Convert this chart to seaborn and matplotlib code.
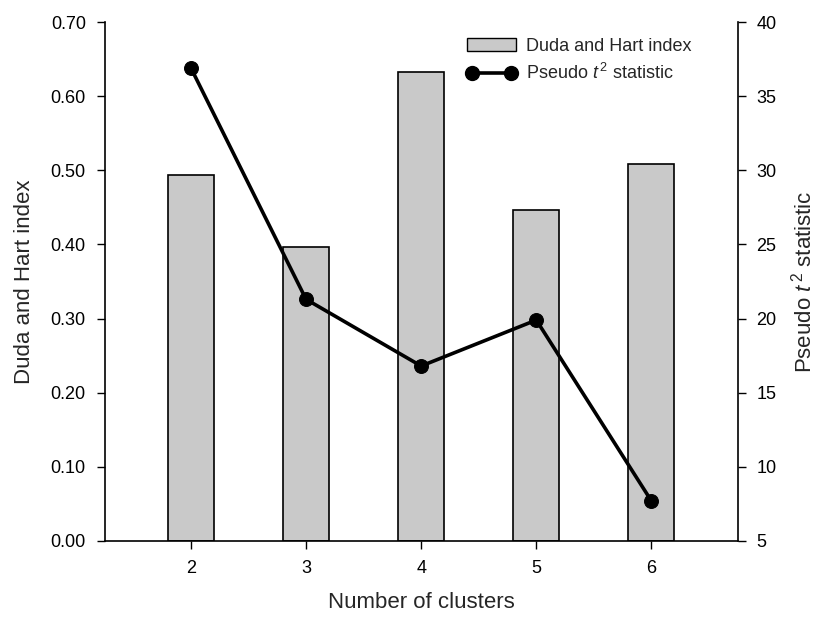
import matplotlib
matplotlib.use("Agg")
import matplotlib.pyplot as plt
import seaborn as sns
import pandas as pd
from matplotlib.lines import Line2D
from matplotlib.patches import Patch

clusters = [2, 3, 4, 5, 6]
duda_hart = [0.494, 0.396, 0.633, 0.446, 0.508]
pseudo_t2 = [36.9, 21.3, 16.8, 19.9, 7.7]
left_ticks = [0.00, 0.10, 0.20, 0.30, 0.40, 0.50, 0.60, 0.70]
right_ticks = [5, 10, 15, 20, 25, 30, 35, 40]

sns.set_theme(style="white")
plt.rcParams["font.family"] = ["Liberation Sans", "DejaVu Sans"]
plt.rcParams["mathtext.fontset"] = "custom"
plt.rcParams["mathtext.rm"] = "Liberation Sans"
plt.rcParams["mathtext.it"] = "Liberation Sans:italic"

df = pd.DataFrame({"clusters": clusters, "dh": duda_hart, "t2": pseudo_t2})

fig = plt.figure(figsize=(8.17, 6.18), dpi=100)
ax = fig.add_axes([0.128, 0.1246, 0.775, 0.8398])

sns.barplot(data=df, x="clusters", y="dh", native_scale=True, width=0.4,
            color="#c9c9c9", edgecolor="black", linewidth=1.2, saturation=1,
            ax=ax)
ax.set_xlim(1.25, 6.75)
ax.set_ylim(0, 0.70)
ax.set_xticks(clusters)
ax.set_xticklabels([str(c) for c in clusters])
ax.set_yticks(left_ticks)
ax.set_yticklabels([f"{v:.2f}" for v in left_ticks])
ax.set_xlabel("Number of clusters", fontsize=16, labelpad=11)
ax.set_ylabel("Duda and Hart index", fontsize=16, labelpad=11)

ax2 = ax.twinx()
sns.lineplot(data=df, x="clusters", y="t2", color="black", linewidth=2.6,
             marker="o", markersize=10, markeredgecolor="black", ax=ax2)
ax2.set_ylim(5, 40)
ax2.set_yticks(right_ticks)
ax2.set_ylabel(r"Pseudo $t^{\,2}$ statistic", fontsize=16, labelpad=10)
ax2.set_xlim(1.25, 6.75)

for a in (ax, ax2):
    a.spines["top"].set_visible(False)
    for s in a.spines.values():
        s.set_linewidth(1.2)
        s.set_color("black")
    a.tick_params(axis="both", which="major", direction="out", length=5.5,
                  width=1, colors="black", labelsize=13, pad=8)
ax.spines["right"].set_visible(False)
ax2.spines["left"].set_visible(False)
ax2.spines["bottom"].set_visible(False)
ax.tick_params(axis="y", right=False, left=True)
ax.tick_params(axis="x", bottom=True)
ax2.tick_params(axis="y", right=True, left=False)

handles = [Patch(facecolor="#c9c9c9", edgecolor="black", linewidth=1.0),
           Line2D([0], [0], color="black", linewidth=2.6, marker="o", markersize=10)]
labels = ["Duda and Hart index", r"Pseudo $t^{\,2}$ statistic"]
ax2.legend(handles, labels, loc="upper left", bbox_to_anchor=(0.572, 0.969),
           frameon=False, fontsize=13, handlelength=2.75, handletextpad=0.55,
           labelspacing=0.45, borderaxespad=0, borderpad=0, numpoints=2)

fig.savefig("out.png", dpi=100)
